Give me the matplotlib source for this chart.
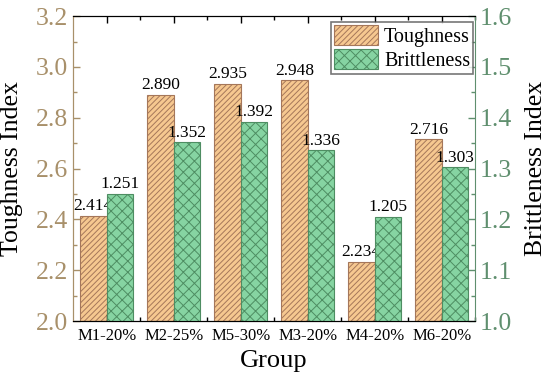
import numpy as np
import matplotlib.pyplot as plt
from matplotlib.ticker import MultipleLocator

groups = ['M1-20%', 'M2-25%', 'M5-30%', 'M3-20%', 'M4-20%', 'M6-20%']
toughness = [2.414, 2.890, 2.935, 2.948, 2.234, 2.716]
brittleness = [1.251, 1.352, 1.392, 1.336, 1.205, 1.303]

plt.rcParams['font.family'] = ['Liberation Serif', 'DejaVu Serif']
plt.rcParams['hatch.linewidth'] = 0.7

tan = '#a8906a'
green = '#5f8f6e'

fig = plt.figure(figsize=(5.5, 3.85), dpi=100)
ax = fig.add_axes([0.133, 0.166, 0.731, 0.792])
ax2 = ax.twinx()

x = np.arange(len(groups))
w = 0.4
b1 = ax.bar(x - w / 2, np.array(toughness) - 2.0, w, bottom=2.0, color='#f6c890',
            edgecolor='#a5775a', hatch='//////', linewidth=0.8, label='Toughness')
b2 = ax2.bar(x + w / 2, np.array(brittleness) - 1.0, w, bottom=1.0, color='#86d4a2',
             edgecolor='#4e8d62', hatch='xxx', linewidth=0.8, label='Brittleness')

for xi, v in zip(x, toughness):
    ax.text(xi - w / 2, v + 0.006, f'{v:.3f}', ha='center', va='bottom', fontsize=12.5)
for xi, v in zip(x, brittleness):
    ax2.text(xi + w / 2, v + 0.003, f'{v:.3f}', ha='center', va='bottom', fontsize=12.5)

ax.set_xlim(-0.5, 5.5)
ax.set_ylim(2.0, 3.2)
ax2.set_ylim(1.0, 1.6)
ax.set_xticks(x)
ax.set_xticklabels(groups, fontsize=12)
ax.set_xticks(x + 0.5, minor=True)
ax.yaxis.set_major_locator(MultipleLocator(0.2))
ax.yaxis.set_minor_locator(MultipleLocator(0.1))
ax2.yaxis.set_major_locator(MultipleLocator(0.1))
ax2.yaxis.set_minor_locator(MultipleLocator(0.05))
ax.yaxis.set_major_formatter(plt.FormatStrFormatter('%.1f'))
ax2.yaxis.set_major_formatter(plt.FormatStrFormatter('%.1f'))

ax.tick_params(axis='x', which='both', direction='in', top=True, length=5, width=1, pad=5)
ax.tick_params(axis='x', which='minor', length=3)
ax.tick_params(axis='y', which='both', direction='in', colors=tan, labelsize=18.5,
               length=5, width=1)
ax.tick_params(axis='y', which='minor', length=3)
ax2.tick_params(axis='y', which='both', direction='in', colors=green, labelsize=18.5,
                length=5, width=1)
ax2.tick_params(axis='y', which='minor', length=3)

ax.spines['left'].set_color(tan)
ax2.spines['left'].set_color(tan)
ax2.spines['right'].set_color(green)
ax.spines['right'].set_visible(False)

ax.set_xlabel('Group', fontsize=19)
ax.set_ylabel('Toughness Index', fontsize=18.5)
ax2.set_ylabel('Brittleness Index', fontsize=18.5)
ax.xaxis.set_label_coords(0.5, -0.095)
ax.yaxis.set_label_coords(-0.124, 0.5)
ax2.yaxis.set_label_coords(1.124, 0.5)

leg = ax2.legend([b1, b2], ['Toughness', 'Brittleness'], loc='upper right',
                 bbox_to_anchor=(0.995, 0.98), fontsize=14.5, fancybox=False,
                 edgecolor='#555555', borderaxespad=0, handlelength=2.2,
                 handleheight=1.1, handletextpad=0.3, borderpad=0.15,
                 labelspacing=0.12)
leg.get_frame().set_linewidth(1.2)

fig.savefig('out.png', dpi=100)
